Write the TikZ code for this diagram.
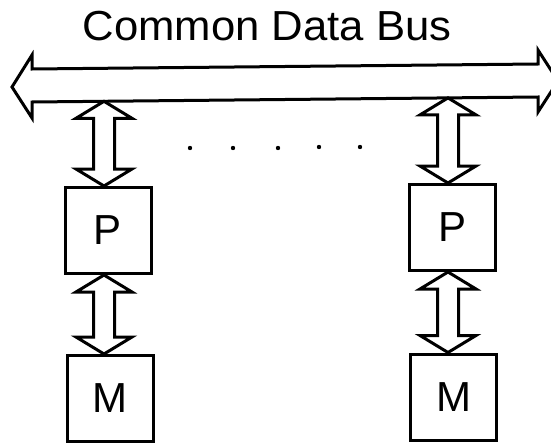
\documentclass[tikz,border=0pt]{standalone}
\usepackage{fontspec}
\setmainfont{Liberation Sans}
\usetikzlibrary{calc}

\tikzset{
  outline/.style={line width=3pt, line join=miter, miter limit=4},
  unitbox/.style={outline, draw, minimum width=86pt, minimum height=86pt,
                  inner sep=0pt, font=\fontsize{42}{50}\selectfont},
  dblarrow/.style={outline, fill=white},
  dotmark/.style={fill=black}
}

% vertical double-headed block arrow between two tips
\newcommand\updown[2]{%
  \draw[dblarrow] let \p1=(#1), \p2=(#2) in
    (\x1,\y1) -- (\x1+28pt,\y1-17pt) -- (\x1+10.5pt,\y1-17pt)
    -- (\x1+10.5pt,\y2+17pt) -- (\x1+28pt,\y2+17pt) -- (\x1,\y2)
    -- (\x1-28pt,\y2+17pt) -- (\x1-10.5pt,\y2+17pt)
    -- (\x1-10.5pt,\y1-17pt) -- (\x1-28pt,\y1-17pt) -- cycle;}

\begin{document}
\begin{tikzpicture}[x=1pt,y=-1pt]
\useasboundingbox (0,0) rectangle (551,444);

% title
\node[font=\fontsize{42}{50}\selectfont, xscale=1.04, anchor=base]
  (title) at (267,41) {Common Data Bus};

% the bus: a wide double-headed arrow
\draw[outline] (12,87) -- (32,55) -- (32,69) -- (538,64) -- (538,50)
  -- (558,81) -- (538,112) -- (538,97) -- (32,102) -- (32,118) -- cycle;
\coordinate (busL) at (104,101.3);
\coordinate (busR) at (448,97.9);

% processor / memory pairs
\node[unitbox] (P1) at (108,230.5) {P};
\node[unitbox] (M1) at (110,398.5) {M};
\node[unitbox] (P2) at (452.5,227.5) {P};
\node[unitbox] (M2) at (453.5,397) {M};

% links
\updown{busL}{busL |- P1.north}
\updown{busR}{busR |- P2.north}
\updown{busL |- P1.south}{busL |- M1.north}
\updown{busR |- P2.south}{busR |- M2.north}

% ellipsis between the columns
\foreach \x/\y in {190/148,233/148,278/148,319/147,360/147}
  \fill[dotmark] (\x,\y) circle (2.2pt);
\end{tikzpicture}
\end{document}
